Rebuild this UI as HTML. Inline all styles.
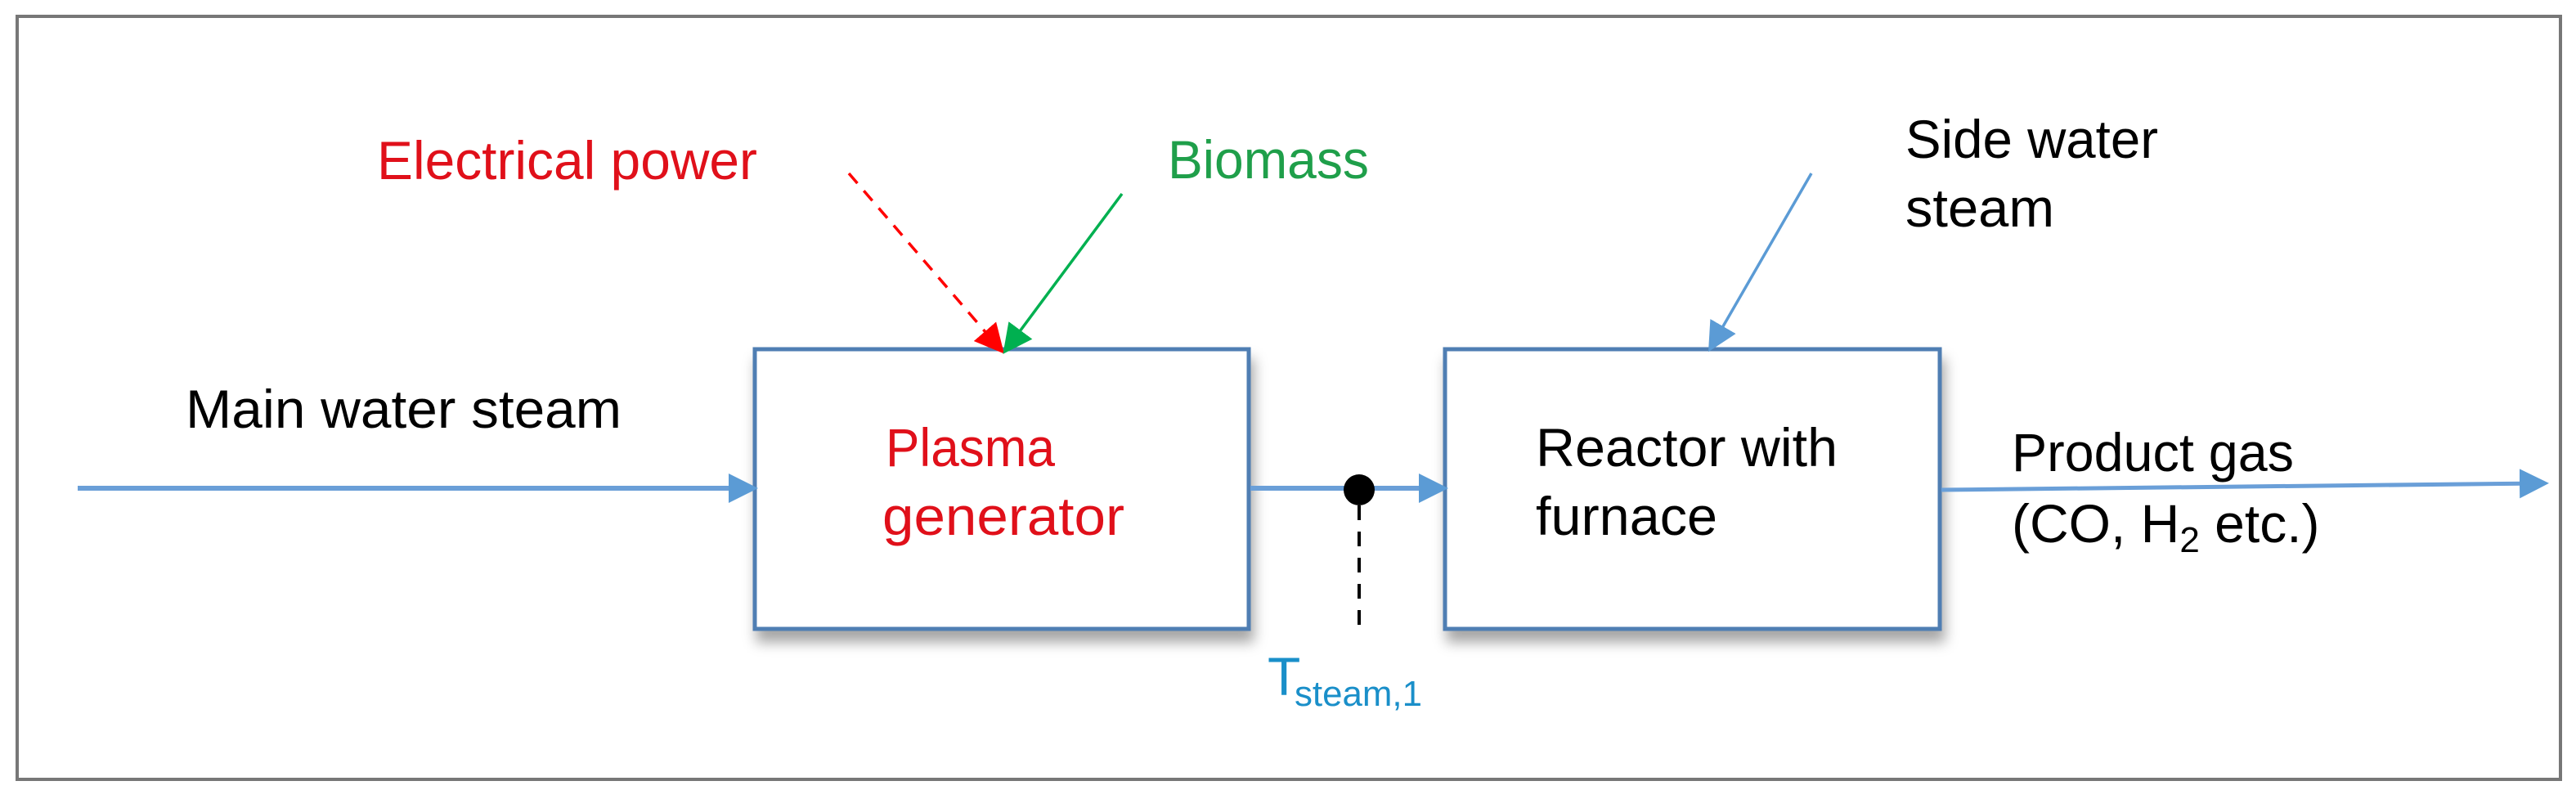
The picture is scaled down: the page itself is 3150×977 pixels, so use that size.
<!DOCTYPE html>
<html><head><meta charset="utf-8"><style>
html,body{margin:0;padding:0;background:#fff;}
svg{display:block;}
text{font-family:"Liberation Sans",sans-serif;}
</style></head><body>
<svg width="3150" height="977" viewBox="0 0 3150 977" xmlns="http://www.w3.org/2000/svg">
<defs>
<marker id="ab" markerWidth="10" markerHeight="10" refX="8" refY="5" orient="auto" markerUnits="userSpaceOnUse" viewBox="0 0 10 10"><path d="M0,0 L10,5 L0,10 z" fill="#5b9bd5"/></marker>
<marker id="abig" markerWidth="36" markerHeight="36" refX="30" refY="18" orient="auto" markerUnits="userSpaceOnUse"><path d="M0,0 L36,18 L0,36 z" fill="#5b9bd5"/></marker>
<marker id="ared" markerWidth="36" markerHeight="36" refX="30" refY="18" orient="auto" markerUnits="userSpaceOnUse"><path d="M0,0 L36,18 L0,36 z" fill="#ff0000"/></marker>
<marker id="agreen" markerWidth="36" markerHeight="36" refX="30" refY="18" orient="auto" markerUnits="userSpaceOnUse"><path d="M0,0 L36,18 L0,36 z" fill="#00b050"/></marker>
<filter id="sh" x="-10%" y="-10%" width="120%" height="130%"><feDropShadow dx="4" dy="14" stdDeviation="8" flood-color="#000" flood-opacity="0.35"/></filter>
</defs>
<rect x="21" y="20" width="3110" height="933" fill="none" stroke="#777" stroke-width="4"/>
<rect x="923" y="427" width="604" height="342" fill="#fff" stroke="#4f7eb3" stroke-width="5" filter="url(#sh)"/>
<rect x="1767" y="427" width="605" height="342" fill="#fff" stroke="#4f7eb3" stroke-width="5" filter="url(#sh)"/>
<line x1="95" y1="597" x2="921" y2="597" stroke="#6a9fd8" stroke-width="6" marker-end="url(#abig)"/>
<line x1="1529" y1="597" x2="1765" y2="597" stroke="#6a9fd8" stroke-width="6" marker-end="url(#abig)"/>
<line x1="2374" y1="599" x2="3111" y2="591" stroke="#6a9fd8" stroke-width="5" marker-end="url(#abig)"/>
<line x1="1038" y1="212" x2="1224" y2="428" stroke="#ff0000" stroke-width="3.5" stroke-dasharray="16,12" marker-end="url(#ared)"/>
<line x1="1372" y1="237" x2="1230" y2="428" stroke="#00b050" stroke-width="3.5" marker-end="url(#agreen)"/>
<line x1="2215" y1="212" x2="2092" y2="425" stroke="#5b9bd5" stroke-width="3.5" marker-end="url(#abig)"/>
<ellipse cx="1662" cy="599" rx="19" ry="19" fill="#000"/>
<line x1="1662" y1="618" x2="1662" y2="769" stroke="#000" stroke-width="4" stroke-dasharray="18,14"/>
<text x="461" y="219" font-size="66" fill="#e0101a" textLength="465" lengthAdjust="spacingAndGlyphs">Electrical power</text>
<text x="1428" y="218" font-size="66" fill="#1f9f4a" textLength="246" lengthAdjust="spacingAndGlyphs">Biomass</text>
<text x="227" y="523" font-size="66" fill="#000" textLength="533" lengthAdjust="spacingAndGlyphs">Main water steam</text>
<text x="1083" y="570" font-size="66" fill="#e0101a" textLength="207" lengthAdjust="spacingAndGlyphs">Plasma</text>
<text x="1079" y="654" font-size="66" fill="#e0101a" textLength="296" lengthAdjust="spacingAndGlyphs">generator</text>
<text x="2330" y="193" font-size="66" fill="#000" textLength="309" lengthAdjust="spacingAndGlyphs">Side water</text>
<text x="2330" y="277" font-size="66" fill="#000" textLength="182" lengthAdjust="spacingAndGlyphs">steam</text>
<text x="1878" y="570" font-size="66" fill="#000" textLength="369" lengthAdjust="spacingAndGlyphs">Reactor with</text>
<text x="1878" y="654" font-size="66" fill="#000" textLength="222" lengthAdjust="spacingAndGlyphs">furnace</text>
<text x="2460" y="576" font-size="66" fill="#000" textLength="345" lengthAdjust="spacingAndGlyphs">Product gas</text>
<text x="2460" y="663" font-size="66" fill="#000">(CO, H<tspan font-size="44" dy="12">2</tspan><tspan dy="-12"> etc.)</tspan></text>
<text x="1550" y="850" font-size="66" fill="#1a8fc9">T</text>
<text x="1583" y="863" font-size="44" fill="#1a8fc9" textLength="156" lengthAdjust="spacingAndGlyphs">steam,1</text>
</svg>
</body></html>
